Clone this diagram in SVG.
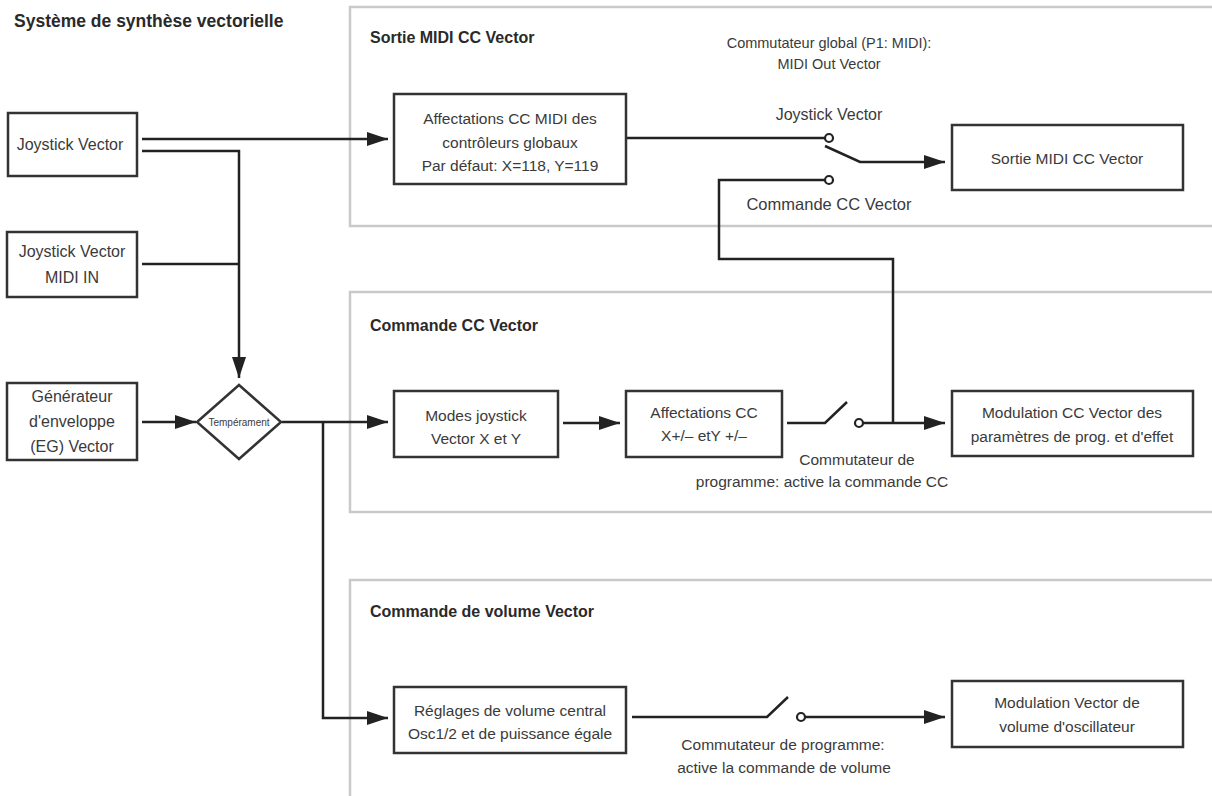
<svg xmlns="http://www.w3.org/2000/svg" width="1212" height="796" viewBox="0 0 1212 796">
  <style>
    .panel { fill: none; stroke: #c9c9c9; stroke-width: 2.5; }
    .box { fill: #ffffff; stroke: #333333; stroke-width: 2.5; }
    .wire { fill: none; stroke: #222222; stroke-width: 2.5; }
    .contact { fill: #ffffff; stroke: #222222; stroke-width: 2.2; }
    text { font-family: "Liberation Sans", Arial, sans-serif; fill: #3a3a3a; }
    .lbl { font-size: 15.5px; text-anchor: middle; }
    .small { font-size: 14.5px; text-anchor: middle; }
    .title { font-size: 16px; font-weight: bold; fill: #2a2a2a; }
    .main-title { font-size: 17.5px; font-weight: bold; fill: #2a2a2a; }
    .tiny { font-size: 10px; text-anchor: middle; }
  </style>
  <defs>
    <marker id="arrow" markerUnits="userSpaceOnUse" markerWidth="22" markerHeight="14" refX="21" refY="7" orient="auto">
      <path d="M0,0 L21,7 L0,14 z" fill="#222222"/>
    </marker>
  </defs>

  <rect width="1212" height="796" fill="#ffffff"/>

  <!-- section frames -->
  <g id="panels">
    <rect class="panel" x="350" y="7" width="900" height="219"/>
    <rect class="panel" x="350" y="292" width="900" height="220"/>
    <rect class="panel" x="350" y="580" width="900" height="260"/>
    <text class="main-title" x="14" y="27">Système de synthèse vectorielle</text>
    <text class="title" x="370" y="43">Sortie MIDI CC Vector</text>
    <text class="title" x="370" y="331">Commande CC Vector</text>
    <text class="title" x="370" y="617">Commande de volume Vector</text>
  </g>

  <!-- connectors -->
  <g id="connectors">
    <!-- joystick to global CC assignments -->
    <line class="wire" x1="142" y1="139" x2="388" y2="139" marker-end="url(#arrow)"/>
    <!-- joystick down to temperament -->
    <polyline class="wire" points="142,151 239,151 239,378" marker-end="url(#arrow)"/>
    <line class="wire" x1="142" y1="264" x2="239" y2="264"/>
    <!-- EG to temperament -->
    <line class="wire" x1="142" y1="422" x2="196" y2="422" marker-end="url(#arrow)"/>
    <!-- temperament to joystick modes -->
    <line class="wire" x1="282" y1="422" x2="388" y2="422" marker-end="url(#arrow)"/>
    <!-- temperament to volume settings -->
    <polyline class="wire" points="323,422 323,718 388,718" marker-end="url(#arrow)"/>

    <!-- MIDI out switch -->
    <line class="wire" x1="626" y1="138" x2="825" y2="138"/>
    <circle class="contact" cx="829" cy="138" r="4"/>
    <circle class="contact" cx="829" cy="180" r="4"/>
    <polyline class="wire" points="825,146 860,162 945,162" marker-end="url(#arrow)"/>
    <polyline class="wire" points="825,180 719,180 719,259 893,259 893,423"/>

    <!-- CC command row -->
    <line class="wire" x1="563" y1="423" x2="620" y2="423" marker-end="url(#arrow)"/>
    <polyline class="wire" points="787,423 825,423 847,402"/>
    <circle class="contact" cx="859" cy="423" r="4"/>
    <line class="wire" x1="863" y1="423" x2="945" y2="423" marker-end="url(#arrow)"/>

    <!-- volume command row -->
    <polyline class="wire" points="632,717 767,717 788,697"/>
    <circle class="contact" cx="801" cy="717" r="4"/>
    <line class="wire" x1="805" y1="717" x2="945" y2="717" marker-end="url(#arrow)"/>
  </g>

  <!-- switch labels -->
  <g id="switch-labels">
    <text class="small" x="829" y="48">Commutateur global (P1: MIDI):</text>
    <text class="small" x="829" y="69">MIDI Out Vector</text>
    <text class="lbl" x="829" y="120" style="font-size:16px">Joystick Vector</text>
    <text class="lbl" x="829" y="210" style="font-size:16.5px">Commande CC Vector</text>
    <text class="lbl" x="857" y="465">Commutateur de</text>
    <text class="lbl" x="822" y="487">programme: active la commande CC</text>
    <text class="lbl" x="783" y="750">Commutateur de programme:</text>
    <text class="lbl" x="784" y="773">active la commande de volume</text>
  </g>

  <g id="joystick">
    <rect class="box" x="8" y="113" width="129" height="63"/>
    <text class="lbl" x="70" y="150" style="font-size:16px">Joystick Vector</text>
  </g>

  <g id="joystick-midi-in">
    <rect class="box" x="7" y="232" width="130" height="65"/>
    <text class="lbl" x="72" y="257" style="font-size:16px">Joystick Vector</text>
    <text class="lbl" x="72" y="283" style="font-size:16px">MIDI IN</text>
  </g>

  <g id="vector-eg">
    <rect class="box" x="7" y="383" width="130" height="77"/>
    <text class="lbl" x="72" y="402" style="font-size:16px">Générateur</text>
    <text class="lbl" x="72" y="427" style="font-size:16px">d'enveloppe</text>
    <text class="lbl" x="72" y="452" style="font-size:16px">(EG) Vector</text>
  </g>

  <g id="temperament">
    <polygon class="box" points="239,385 281,422 239,459 197,422"/>
    <text class="tiny" x="239" y="426">Tempérament</text>
  </g>

  <g id="global-cc-assign">
    <rect class="box" x="394" y="94" width="232" height="90"/>
    <text class="lbl" x="510" y="124">Affectations CC MIDI des</text>
    <text class="lbl" x="510" y="148">contrôleurs globaux</text>
    <text class="lbl" x="510" y="171">Par défaut: X=118, Y=119</text>
  </g>

  <g id="midi-cc-out">
    <rect class="box" x="952" y="125" width="231" height="65"/>
    <text class="lbl" x="1067" y="164">Sortie MIDI CC Vector</text>
  </g>

  <g id="joystick-modes">
    <rect class="box" x="394" y="391" width="164" height="66"/>
    <text class="lbl" x="476" y="421">Modes joystick</text>
    <text class="lbl" x="476" y="444">Vector X et Y</text>
  </g>

  <g id="cc-assign">
    <rect class="box" x="626" y="391" width="156" height="66"/>
    <text class="lbl" x="704" y="418">Affectations CC</text>
    <text class="lbl" x="704" y="441">X+/– etY +/–</text>
  </g>

  <g id="cc-modulation">
    <rect class="box" x="952" y="391" width="241" height="65"/>
    <text class="lbl" x="1072" y="418">Modulation CC Vector des</text>
    <text class="lbl" x="1072" y="442">paramètres de prog. et d'effet</text>
  </g>

  <g id="volume-settings">
    <rect class="box" x="394" y="687" width="232" height="66"/>
    <text class="lbl" x="510" y="716">Réglages de volume central</text>
    <text class="lbl" x="510" y="739">Osc1/2 et de puissance égale</text>
  </g>

  <g id="volume-modulation">
    <rect class="box" x="952" y="681" width="231" height="66"/>
    <text class="lbl" x="1067" y="708">Modulation Vector de</text>
    <text class="lbl" x="1067" y="732">volume d'oscillateur</text>
  </g>
</svg>
